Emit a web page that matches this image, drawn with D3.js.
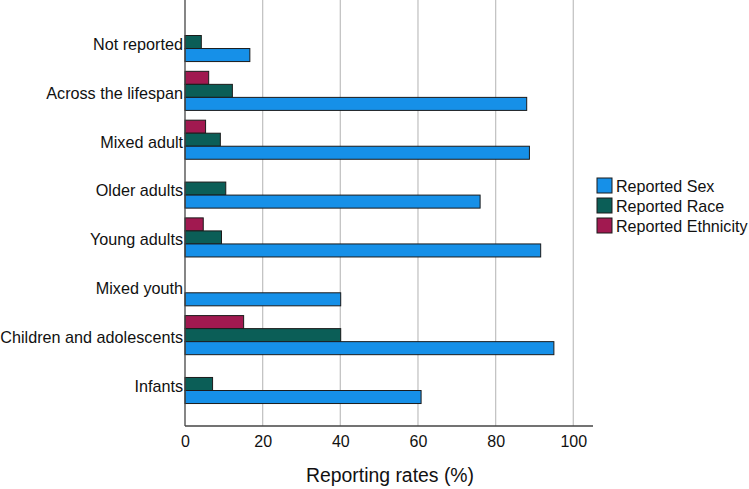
<!DOCTYPE html>
<html>
<head>
<meta charset="utf-8">
<script src="https://cdn.jsdelivr.net/npm/d3@7"></script>
<style>
  html, body { margin: 0; padding: 0; background: #fff; }
  svg { display: block; font-family: "Liberation Sans", Arial, sans-serif; }
</style>
</head>
<body>
<svg id="chart" width="749" height="489"></svg>
<script>
const categories = ["Not reported", "Across the lifespan", "Mixed adult", "Older adults",
  "Young adults", "Mixed youth", "Children and adolescents", "Infants"];
const seriesNames = ["Reported Ethnicity", "Reported Race", "Reported Sex"];
const reportedSex = [16.7, 88.0, 88.7, 76.0, 91.6, 40.1, 95.0, 60.8];
const reportedRace = [4.2, 12.2, 9.1, 10.5, 9.4, 0, 40.1, 7.1];
const reportedEthnicity = [0, 6.1, 5.3, 0, 4.7, 0, 15.1, 0];
const xTicks = [0, 20, 40, 60, 80, 100];
const legendOrder = ["Reported Sex", "Reported Race", "Reported Ethnicity"];
const colors = {"Reported Sex": "#1690e8", "Reported Race": "#0b5e57", "Reported Ethnicity": "#a11950"};

const seriesValues = {
  "Reported Sex": reportedSex,
  "Reported Race": reportedRace,
  "Reported Ethnicity": reportedEthnicity
};

const svg = d3.select("#chart");
const mLeft = 185, mRight = 593, mTop = 0, mBottom = 426;

const x = d3.scaleLinear().domain([0, 105]).range([mLeft, mLeft + 105 * (573.3 - 185) / 100]);
const y = d3.scaleBand().domain(categories).range([mTop, mBottom]).paddingInner(0.2).paddingOuter(0.46);
const ySub = d3.scaleBand().domain(seriesNames).range([0, y.bandwidth()]);

// gridlines
svg.append("g").selectAll("line").data(xTicks.filter(t => t > 0)).join("line")
  .attr("x1", d => x(d)).attr("x2", d => x(d))
  .attr("y1", mTop).attr("y2", mBottom)
  .attr("stroke", "#c4c4c4").attr("stroke-width", 1.3);

// bars
const groups = svg.append("g").selectAll("g").data(categories).join("g")
  .attr("transform", d => `translate(0,${y(d)})`);

groups.selectAll("rect").data((c, i) => seriesNames.map(s => ({s, v: seriesValues[s][i]})))
  .join("rect")
  .attr("x", x(0))
  .attr("y", d => ySub(d.s))
  .attr("width", d => x(d.v) - x(0))
  .attr("height", ySub.bandwidth())
  .attr("fill", d => colors[d.s])
  .attr("stroke", "#1b1b1b")
  .attr("stroke-width", 1);

// axes lines
svg.append("line").attr("x1", mLeft).attr("x2", mLeft).attr("y1", mTop).attr("y2", mBottom)
  .attr("stroke", "#444").attr("stroke-width", 1.3);
svg.append("line").attr("x1", mLeft).attr("x2", mRight).attr("y1", mBottom).attr("y2", mBottom)
  .attr("stroke", "#444").attr("stroke-width", 1.3);

// x axis tick labels
const xAxis = d3.axisBottom(x).tickValues(xTicks).tickSize(0).tickPadding(10);
const gx = svg.append("g").attr("transform", `translate(0,${mBottom})`).call(xAxis);
gx.select(".domain").remove();
gx.selectAll("text").attr("font-size", 16).attr("fill", "#111")
  .attr("font-family", "Liberation Sans, Arial, sans-serif");

// y axis labels
const yAxis = d3.axisLeft(y).tickSize(0).tickPadding(2);
const gy = svg.append("g").attr("transform", `translate(${mLeft},0)`).call(yAxis);
gy.select(".domain").remove();
gy.selectAll("text").attr("font-size", 16.2).attr("fill", "#111")
  .attr("dy", "0.48em")
  .attr("font-family", "Liberation Sans, Arial, sans-serif");

// axis title
svg.append("text").attr("x", 390).attr("y", 482)
  .attr("text-anchor", "middle").attr("font-size", 19.4).attr("fill", "#111")
  .text("Reporting rates (%)");

// legend
const lg = svg.append("g").attr("transform", "translate(597,178)");
const items = lg.selectAll("g").data(legendOrder).join("g")
  .attr("transform", (d, i) => `translate(0,${i * 20})`);
items.append("rect").attr("width", 15).attr("height", 15)
  .attr("fill", d => colors[d]).attr("stroke", "#1b1b1b").attr("stroke-width", 1);
items.append("text").attr("x", 19).attr("y", 13.5).attr("font-size", 16.1).attr("fill", "#111")
  .text(d => d);
</script>
</body>
</html>
